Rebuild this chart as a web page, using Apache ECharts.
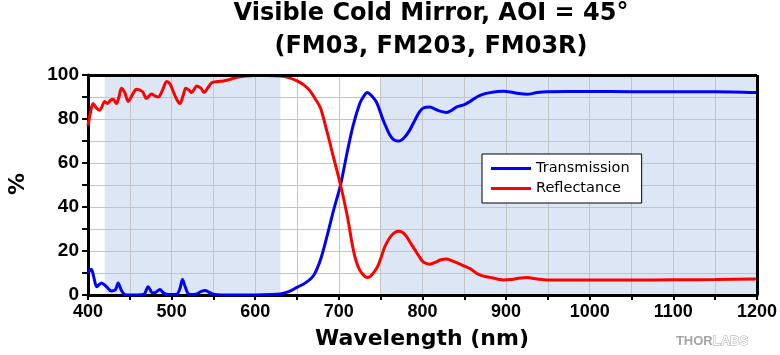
<!DOCTYPE html>
<html>
<head>
<meta charset="utf-8">
<script src="https://cdn.jsdelivr.net/npm/echarts@6/dist/echarts.min.js"></script>
<style>html,body{margin:0;padding:0;background:#fff}#c{width:780px;height:355px}</style>
</head>
<body>
<div id="c"></div>
<script>
const titleLines = ['Visible Cold Mirror, AOI = 45°', '(FM03, FM203, FM03R)'];
const xName = 'Wavelength (nm)';
const yName = '%';
const seriesNames = ['Transmission', 'Reflectance'];
const shadedBands = [[420, 630], [750, 1200]];

const tWl = [400,404,407,410.5,416,422,428,433,436,440,444,450,460,467,472,477,481,486,490,494,500,506,510,513,516,520,525,530,535,540,545,550,560,580,600,620,630,640,650,660,670,678,686,694,702,710,717,725,730,734,738,745,753,761,766,772,778,784,791,796,801,809,815,821,829,835,841,850,857,865,873,881,890,897,905,915,925,937,949,975,1000,1050,1100,1150,1200];
const tVal = [10,11.7,8,3.8,5.5,3.8,1.8,2.5,5.5,2.1,0.2,0,0,0.3,3.8,1,1.2,2.5,1,0.3,0.2,0.3,3,7,4,0.5,0.2,0.5,1.5,2,1.2,0.3,0,0,0,0.2,0.5,1.5,3.5,5.5,9,16,27,39,50,65,77,87,90.5,92,91,87.6,79.5,72.7,70.5,70,71.5,74.5,79.5,83,85,85.5,84.5,83.6,83,84,85.5,86.5,88,90,91.3,92,92.5,92.6,92.3,91.6,91.2,92,92.4,92.5,92.5,92.4,92.4,92.4,92];

const rWl = [400,403,406,410,414,420,423,427,430,434,437,440,444,448,453,458,465,470,476,480,484,489,494,498,502,506,510,514,517,521,524,527,530,535,539,543,548,555,562,570,578,588,598,615,630,640,650,658,665,672,678,686,694,702,710,717,721,725,730,734,738,745,750,755,763,771,776,781,786,791,796,801,809,815,822,829,837,845,851,857,865,873,881,889,897,905,915,925,937,949,975,1000,1050,1100,1150,1200];
const rVal = [77,83,87,85,84,88,87,88.5,89,87,90,94,92,88,91,93.5,92.5,89.4,91.4,90.5,90,93,97,96,92.5,89,87,91,94,93,92,93.5,95,94,92,94,96.5,97,97.3,98,99,99.5,99.8,99.8,99.5,98.8,97.3,95.5,93,89,85,74,62,50,36,21,15,11.4,8.8,8,8.6,12,16.5,22,27.1,29,28.5,26.5,23.5,20.5,17.5,15,14,14.8,16,16.4,15.3,14,13,12,9.8,8.6,8,7.3,6.8,7,7.6,7.9,7.3,6.8,6.8,6.8,6.8,6.9,7,7.3];

const xMin = 400, xMax = 1200, xStep = 50, xLabelStep = 100;
const yMin = 0, yMax = 100, yStep = 10, yLabelStep = 20;

function zip(a, b) { return a.map((v, i) => [v, b[i]]); }

const chart = echarts.init(document.getElementById('c'), null, {renderer: 'canvas'});
const tickFont = {fontFamily: 'Liberation Sans', fontWeight: 'bold', color: '#000'};
chart.setOption({
  animation: false,
  grid: {left: 88, right: 23, top: 75, bottom: 60, show: false},
  xAxis: {
    type: 'value', min: xMin, max: xMax, interval: xStep, z: 1.5,
    axisLine: {show: true, onZero: false, lineStyle: {color: '#000', width: 3}},
    axisTick: {show: true, inside: false, length: 5, lineStyle: {color: '#000', width: 2}},
    axisLabel: Object.assign({fontSize: 18, margin: 8,
      formatter: v => (v % xLabelStep === 0 ? String(v) : '')}, tickFont),
    splitLine: {show: true, lineStyle: {color: '#c4c4c4', width: 1}}
  },
  yAxis: {
    type: 'value', min: yMin, max: yMax, interval: yStep, z: 1.5,
    axisLine: {show: true, onZero: false, lineStyle: {color: '#000', width: 3}},
    axisTick: {show: true, inside: false, length: 6, lineStyle: {color: '#000', width: 2}},
    axisLabel: Object.assign({fontSize: 19, margin: 9,
      formatter: v => (v % yLabelStep === 0 ? String(v) : '')}, tickFont),
    splitLine: {show: true, lineStyle: {color: '#c4c4c4', width: 1}}
  },
  legend: {
    data: seriesNames, orient: 'vertical', left: 482, top: 154,
    backgroundColor: '#fff', borderColor: '#000', borderWidth: 1,
    padding: [7, 12, 7, 9], itemGap: 5, itemWidth: 40, itemHeight: 3, icon: 'rect',
    textStyle: {fontFamily: 'DejaVu Sans', fontSize: 14.5, color: '#000', lineHeight: 14},
    z: 10
  },
  series: [
    {
      type: 'line', data: [], z: 1, silent: true,
      markArea: {silent: true, itemStyle: {color: '#dce6f5'},
        data: shadedBands.map(b => [{xAxis: b[0]}, {xAxis: b[1]}])}
    },
    {
      name: seriesNames[0], type: 'line', data: zip(tWl, tVal), showSymbol: false,
      smooth: 0.3, lineStyle: {color: '#0000ff', width: 3}, itemStyle: {color: '#0000ff'}, z: 3
    },
    {
      name: seriesNames[1], type: 'line', data: zip(rWl, rVal), showSymbol: false,
      smooth: 0.3, lineStyle: {color: '#ff0000', width: 3}, itemStyle: {color: '#ff0000'}, z: 3
    },
    {
      type: 'line', data: [], xAxisIndex: 0, yAxisIndex: 0, z: 4, silent: true,
      markLine: {silent: true, symbol: 'none', label: {show: false},
        lineStyle: {color: '#000', width: 3, type: 'solid'},
        data: [[{coord: [xMin, yMax]}, {coord: [xMax, yMax]}], [{coord: [xMax, yMin]}, {coord: [xMax, yMax]}]]}
    }
  ],
  graphic: [
    {type: 'text', x: 431, y: 14, z: 10, style: {text: titleLines[0], fontFamily: 'DejaVu Sans', fontWeight: 'bold', fontSize: 24, fill: '#000', align: 'center', verticalAlign: 'middle'}},
    {type: 'text', x: 431, y: 47, z: 10, style: {text: titleLines[1], fontFamily: 'DejaVu Sans', fontWeight: 'bold', fontSize: 24, fill: '#000', align: 'center', verticalAlign: 'middle'}},
    {type: 'text', x: 422, y: 339, z: 10, style: {text: xName, fontFamily: 'DejaVu Sans', fontWeight: 'bold', fontSize: 22, fill: '#000', align: 'center', verticalAlign: 'middle'}},
    {type: 'text', x: 18, y: 184, rotation: Math.PI / 2, z: 10, style: {text: yName, fontFamily: 'DejaVu Sans', fontWeight: 'bold', fontSize: 22, fill: '#000', align: 'center', verticalAlign: 'middle'}},
    {type: 'text', x: 712, y: 341, z: 10, style: {
      text: '{a|THOR}{b|LABS}', align: 'center', verticalAlign: 'middle',
      rich: {
        a: {fontFamily: 'Liberation Sans', fontWeight: 'bold', fontSize: 13, fill: '#a5a5a5'},
        b: {fontFamily: 'Liberation Sans', fontWeight: 'bold', fontSize: 13, fill: '#ffffff', stroke: '#a5a5a5', lineWidth: 1}
      }}}
  ]
});
</script>
</body>
</html>
